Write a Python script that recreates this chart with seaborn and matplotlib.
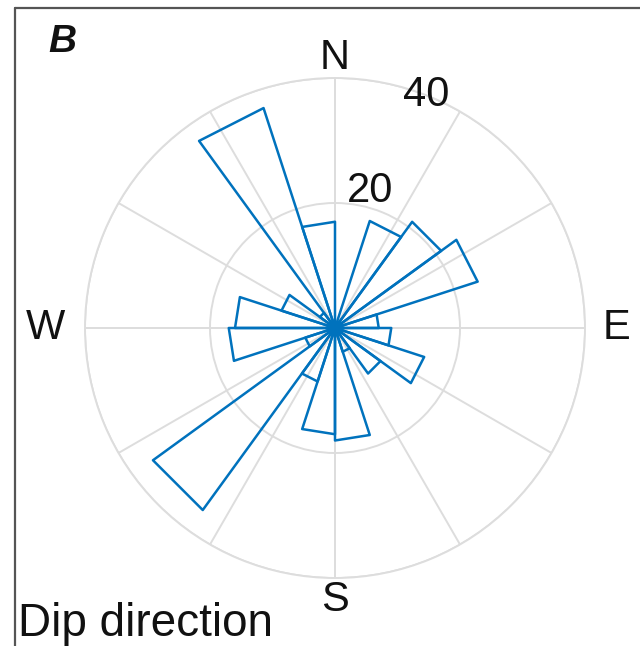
import numpy as np
import pandas as pd
import matplotlib
matplotlib.use("Agg")
import matplotlib.pyplot as plt
import seaborn as sns
from matplotlib.lines import Line2D

# ---- data (rose diagram of dip directions, 18-degree bins) ----
bin_edges_deg = [0, 18, 36, 54, 72, 90, 108, 126, 144, 162, 180,
                 198, 216, 234, 252, 270, 288, 306, 324, 342, 360]
bin_counts = [0, 18, 21, 24, 7, 9, 15, 9, 4, 18, 17,
              9, 36, 5, 17, 16, 9, 3, 37, 17]
r_ticks = [20, 40]
r_tick_labels = ["20", "40"]
compass_labels = ["N", "E", "S", "W"]
compass_angles = [0, 90, 180, 270]
panel_label = "B"
footer_text = "Dip direction"

# build triangle vertices (MATLAB rose style) as a tidy table
rows = []
for i, c in enumerate(bin_counts):
    if c <= 0:
        continue
    t1 = np.deg2rad(bin_edges_deg[i])
    t2 = np.deg2rad(bin_edges_deg[i + 1])
    for k, (t, r) in enumerate([(t1, 0), (t1, c), (t2, c), (t2, 0)]):
        rows.append({"bin": i, "order": k, "theta": t, "r": r})
df = pd.DataFrame(rows)

sns.set_theme(style="white")
plt.rcParams["font.family"] = ["Liberation Sans", "DejaVu Sans"]

fig = plt.figure(figsize=(6.4, 6.46), dpi=100)
W, H = 640, 646
cx, cy, R = 335, 328, 250
ax = fig.add_axes([(cx - R) / W, (H - cy - R) / H, 2 * R / W, 2 * R / H],
                  projection="polar")
ax.set_theta_zero_location("N")
ax.set_theta_direction(-1)
ax.set_ylim(0, 40)

grid_col = "#dddddd"
ax.set_xticks(np.deg2rad(np.arange(0, 360, 30)))
ax.set_xticklabels([])
ax.set_yticks(r_ticks)
ax.set_yticklabels([])
ax.grid(True, color=grid_col, linewidth=1.4)
ax.spines["polar"].set_color(grid_col)
ax.spines["polar"].set_linewidth(1.4)
ax.tick_params(length=0)

sns.lineplot(data=df, x="theta", y="r", units="bin", estimator=None,
             sort=False, color="#0072BD", linewidth=1.8, ax=ax)
ax.set_xlabel("")
ax.set_ylabel("")

txt_col = "#111111"
# radial labels
ax.text(np.deg2rad(14.5), 22.6, r_tick_labels[0], ha="center", va="center",
        fontsize=30, color=txt_col)
ax.text(np.deg2rad(21.5), 40.0, r_tick_labels[1], ha="center", va="center",
        fontsize=30, color=txt_col, clip_on=False)

# compass labels
compass_r = [43.2, 45.0, 43.5, 46.3]
for lab, ang, rr in zip(compass_labels, compass_angles, compass_r):
    ax.text(np.deg2rad(ang), rr, lab, ha="center", va="center",
            fontsize=30, color=txt_col, clip_on=False)

fig.text(48 / W, 1 - 52 / H, panel_label, fontsize=28, fontweight="bold",
         fontstyle="italic", ha="left", va="baseline", color=txt_col)
fig.text(18 / W, 1 - 636 / H, footer_text, fontsize=33, ha="left",
         va="baseline", color=txt_col)

# partial frame (left and top edges)
fig.add_artist(Line2D([15 / W, 15 / W], [0, 1 - 8 / H], transform=fig.transFigure,
                      color="#555555", linewidth=1.6))
fig.add_artist(Line2D([15 / W, 1], [1 - 8 / H, 1 - 8 / H], transform=fig.transFigure,
                      color="#555555", linewidth=1.6))

fig.savefig("out.png", dpi=100, facecolor="white")
